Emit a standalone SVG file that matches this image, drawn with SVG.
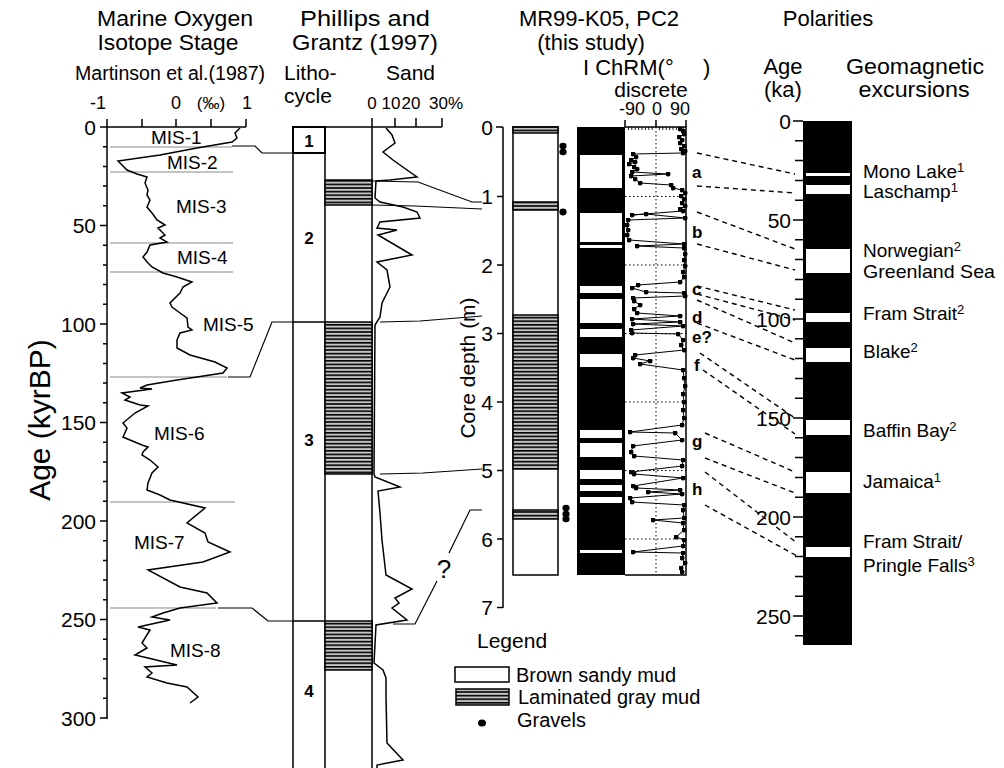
<svg xmlns="http://www.w3.org/2000/svg" width="1004" height="768" viewBox="0 0 1004 768">
<defs>
<style>
text{font-family:"Liberation Sans",Arial,sans-serif;fill:#000}
.t23{font-size:23px}
.t22{font-size:22px}
.t21{font-size:21px}
.t20{font-size:20px}
.t19{font-size:19px}
.t18{font-size:18px}
.t17{font-size:17px}
.mis{font-size:19px}
.bold{font-weight:bold;font-size:17px}
.ln{fill:none;stroke:#000;stroke-width:1.5}
.thin{fill:none;stroke:#000;stroke-width:1.2}
.gray{fill:none;stroke:#8a8a8a;stroke-width:1.2}
.dash{fill:none;stroke:#000;stroke-width:1.4;stroke-dasharray:5 4}
.dot{fill:none;stroke:#000;stroke-width:1;stroke-dasharray:1.5 2.5}
.lam{fill:url(#lam);stroke:#000;stroke-width:1.5}
.sand{fill:#fff;stroke:#000;stroke-width:1.5}
</style>
<pattern id="lam" width="10" height="3.6" patternUnits="userSpaceOnUse">
<rect width="10" height="3.6" fill="#c4c4c4"/>
<rect width="10" height="1.6" fill="#000"/>
</pattern>
<marker id="pt" viewBox="0 0 6 6" refX="3" refY="3" markerWidth="5" markerHeight="5" markerUnits="userSpaceOnUse">
<circle cx="3" cy="3" r="3" fill="#000"/>
</marker>
</defs>
<rect width="1004" height="768" fill="#fff"/>

<!-- ===== Left panel: Marine Oxygen Isotope Stage ===== -->
<g id="isotope-panel">
<text class="t22" x="175" y="26" text-anchor="middle" textLength="156" lengthAdjust="spacingAndGlyphs">Marine Oxygen</text>
<text class="t22" x="168" y="50" text-anchor="middle" textLength="141" lengthAdjust="spacingAndGlyphs">Isotope Stage</text>
<text class="t20" x="170" y="80" text-anchor="middle" textLength="190" lengthAdjust="spacingAndGlyphs">Martinson et al.(1987)</text>
<text class="t18" x="98" y="109" text-anchor="middle">-1</text>
<text class="t18" x="176" y="109" text-anchor="middle">0</text>
<text class="t17" x="211" y="109" text-anchor="middle">(‰)</text>
<text class="t18" x="247" y="109" text-anchor="middle">1</text>
<path class="ln" d="M107,127H246M107,127V119M142,127V119M176,127V119M211,127V119M246,127V119"/>
<text style="font-size:30px" transform="translate(50,420) rotate(-90)" text-anchor="middle">Age (kyrBP)</text>
<path class="ln" d="M107,127V719"/>
<path class="ln" d="M100,127H107M103,146.7H107M103,166.4H107M103,186.1H107M103,205.8H107M100,225.5H107M103,245.2H107M103,264.9H107M103,284.6H107M103,304.3H107M100,324H107M103,343.7H107M103,363.4H107M103,383.1H107M103,402.8H107M100,422.5H107M103,442.2H107M103,461.9H107M103,481.6H107M103,501.3H107M100,521H107M103,540.7H107M103,560.4H107M103,580.1H107M103,599.8H107M100,619.5H107M103,639.2H107M103,658.9H107M103,678.6H107M103,698.3H107M100,718H107"/>
<g class="t21" text-anchor="end">
<text x="96" y="135">0</text>
<text x="96" y="233">50</text>
<text x="96" y="332">100</text>
<text x="96" y="430">150</text>
<text x="96" y="529">200</text>
<text x="96" y="627">250</text>
<text x="96" y="726">300</text>
</g>
<path class="gray" d="M110,147H232M110,172H233M110,243H233M110,272H233M110,377H227M110,502H235M110,608H216"/>
<g class="mis">
<text x="151" y="144">MIS-1</text>
<text x="167" y="169">MIS-2</text>
<text x="176" y="213">MIS-3</text>
<text x="177" y="264">MIS-4</text>
<text x="203" y="331">MIS-5</text>
<text x="154" y="440">MIS-6</text>
<text x="134" y="549">MIS-7</text>
<text x="170" y="657">MIS-8</text>
</g>
<polyline class="ln" points="240,128 235,133 237,138 232,142 197,148 160,155 118,161 122,165 127,170 137,174 147,177 145,183 148,190 147,195 150,200 147,207 152,213 157,220 165,225 158,228 165,235 160,238 167,242 150,245 147,252 143,257 148,263 152,267 163,273 177,277 192,282 183,287 180,293 170,303 172,307 180,313 187,318 188,327 192,330 180,333 177,340 177,348 190,355 215,362 227,368 223,373 197,377 177,380 147,385 140,388 152,389 122,393 130,397 125,400 140,405 148,406 135,413 123,423 127,428 123,437 130,440 142,445 148,447 143,452 142,455 150,460 158,467 152,473 148,483 147,490 160,495 170,500 205,508 187,523 205,533 208,542 230,552 203,562 148,570 180,587 207,593 217,603 180,608 163,613 152,617 170,620 138,627 150,630 142,643 147,648 135,655 148,658 177,665 145,667 152,673 147,677 167,683 187,687 198,697 190,703"/>
</g>

<!-- ===== Phillips and Grantz (1997) ===== -->
<g id="phillips-panel">
<text class="t22" x="365" y="26" text-anchor="middle" textLength="130" lengthAdjust="spacingAndGlyphs">Phillips and</text>
<text class="t22" x="365" y="50" text-anchor="middle" textLength="146" lengthAdjust="spacingAndGlyphs">Grantz (1997)</text>
<text class="t21" x="284" y="80">Litho-</text>
<text class="t21" x="284" y="103">cycle</text>
<text class="t21" x="386" y="80">Sand</text>
<text class="t17" x="372" y="109" text-anchor="middle">0</text>
<text class="t17" x="391" y="109" text-anchor="middle">10</text>
<text class="t17" x="411" y="109" text-anchor="middle">20</text>
<text class="t17" x="446" y="109" text-anchor="middle">30%</text>
<path class="ln" d="M372,127H442M372,127V118M395,127V118M416,127V118M442,127V118"/>
<rect class="sand" x="325" y="127" width="47" height="650"/>
<rect class="lam" x="325" y="180" width="47" height="25"/>
<rect class="lam" x="325" y="322" width="47" height="152"/>
<rect class="lam" x="325" y="621" width="47" height="49"/>
<path class="ln" d="M293,127V770M293,127H325M293,153H325M293,322H325M293,621H325"/>
<rect x="293" y="127" width="32" height="26" fill="none" stroke="#000" stroke-width="2"/>
<g class="bold" text-anchor="middle">
<text x="309" y="147">1</text>
<text x="309" y="244">2</text>
<text x="309" y="446">3</text>
<text x="309" y="697">4</text>
</g>
<polyline class="ln" points="386,128 392,135 395,143 383,152 393,160 407,170 417,177 390,180 376,181 375,198 380,202 403,207 417,212 420,218 380,222 377,228 397,230 378,235 412,255 377,262 387,270 390,287 382,303 380,317 375,325 374,474 375,477 400,487 378,491 380,513 382,540 386,575 412,589 395,598 399,603 392,608 407,620 376,625 374,663 383,670 386,678 386,697 387,743 403,760 377,765 377,770"/>
</g>

<!-- ===== MR99-K05, PC2 ===== -->
<g id="mr99-panel">
<text class="t22" x="599" y="26" text-anchor="middle">MR99-K05, PC2</text>
<text class="t22" x="591" y="50" text-anchor="middle">(this study)</text>
<text class="t22" x="583" y="75">I ChRM(°</text>
<text class="t22" x="703" y="75">)</text>
<text class="t21" x="651" y="97" text-anchor="middle">discrete</text>
<text class="t18" x="632" y="115" text-anchor="middle">-90</text>
<text class="t18" x="657" y="115" text-anchor="middle">0</text>
<text class="t18" x="680" y="115" text-anchor="middle">90</text>
<text class="t21" transform="translate(475,368) rotate(-90)" text-anchor="middle">Core depth (m)</text>
<path class="ln" d="M503,127V608M496,127H503M497,196.5H503M497,265H503M497,333.5H503M497,402H503M497,470.5H503M497,539H503M497,607.5H503"/>
<g class="t21" text-anchor="end">
<text x="493" y="135">0</text>
<text x="493" y="204">1</text>
<text x="493" y="273">2</text>
<text x="493" y="341">3</text>
<text x="493" y="410">4</text>
<text x="493" y="478">5</text>
<text x="493" y="547">6</text>
<text x="493" y="615">7</text>
</g>
<rect class="sand" x="513" y="127" width="45" height="448"/>
<rect class="lam" x="513" y="127" width="45" height="6"/>
<rect class="lam" x="513" y="202" width="45" height="8"/>
<rect class="lam" x="513" y="315" width="45" height="154"/>
<rect class="lam" x="513" y="510" width="45" height="9"/>
<g fill="#000">
<ellipse cx="563" cy="146" rx="3.6" ry="3.2"/>
<ellipse cx="563" cy="152" rx="3.6" ry="3.2"/>
<ellipse cx="563" cy="212" rx="3.6" ry="3.4"/>
<ellipse cx="566" cy="508" rx="3.6" ry="3.2"/>
<ellipse cx="566" cy="514" rx="3.6" ry="3.2"/>
<ellipse cx="566" cy="519" rx="3.6" ry="3.2"/>
</g>
<rect x="577" y="127" width="48" height="448" fill="#000"/>
<g fill="#fff">
<rect x="580" y="155" width="42" height="33"/>
<rect x="580" y="213" width="42" height="29"/>
<rect x="580" y="245" width="42" height="3"/>
<rect x="580" y="286" width="42" height="7"/>
<rect x="580" y="299" width="42" height="24"/>
<rect x="580" y="329" width="42" height="8"/>
<rect x="580" y="354" width="42" height="13"/>
<rect x="580" y="430" width="42" height="8"/>
<rect x="580" y="443" width="42" height="14"/>
<rect x="580" y="470" width="42" height="9"/>
<rect x="580" y="485" width="42" height="6"/>
<rect x="580" y="497" width="42" height="6"/>
<rect x="580" y="550" width="42" height="3"/>
</g>
<path class="dot" d="M656,127V575M625,196.5H686M625,265H686M625,333.5H686M625,402H686M625,470.5H686M625,539H686"/>
<path class="ln" d="M625,127H686V575H625"/>
<path stroke="#000" stroke-width="0.9" fill="none" d="M628.4,127v3M631.8,127v3M635.2,127v3M638.6,127v3M642,127v3M645.4,127v3M648.8,127v3M652.2,127v3M659.4,127v3M662.8,127v3M666.2,127v3M669.6,127v3M673,127v3M676.4,127v3M679.8,127v3M683.2,127v3"/>
<path class="ln" d="M625,127V120M656,127V120M686,127V120"/>
<polyline fill="none" stroke="#000" stroke-width="1" marker-start="url(#pt)" marker-mid="url(#pt)" marker-end="url(#pt)" points="680,129 683,131 684,134 679,137 682,140 680,143 684,146 681,149 685,151 683,153 633,154 636,157 631,160 635,162 629,164 634,167 637,169 632,172 668,174 631,176 635,179 640,183 671,185 673,188 682,190 685,193 681,196 684,199 682,203 685,206 680,209 683,211 632,215 646,214 685,218 628,220 627,225 628,230 627,235 629,240 684,244 637,246 684,248 685,254 684,260 685,266 683,272 684,277 680,282 638,285 632,288 646,292 684,293 685,296 633,298 634,301 640,305 634,309 637,313 680,316 632,319 680,322 633,324 683,326 631,330 632,333 678,334 683,340 681,345 684,350 635,355 633,358 650,361 640,364 683,370 684,378 685,386 683,394 684,402 683,410 684,418 682,425 630,432 675,433 682,440 633,446 631,452 634,456 683,460 682,466 631,472 634,474 683,478 633,486 636,488 680,490 648,492 682,494 630,498 632,502 684,505 683,510 684,518 653,520 683,523 684,530 676,537 684,540 683,546 633,552 683,553 682,558 685,563 681,568 682,572"/>
<g class="bold">
<text x="692" y="178">a</text>
<text x="692" y="238">b</text>
<text x="692" y="295">c</text>
<text x="692" y="323">d</text>
<text x="692" y="343">e?</text>
<text x="694" y="371">f</text>
<text x="692" y="447">g</text>
<text x="692" y="495">h</text>
</g>
</g>

<!-- ===== Polarities ===== -->
<g id="polarity-panel">
<text class="t22" x="828" y="26" text-anchor="middle">Polarities</text>
<text class="t22" x="783" y="74" text-anchor="middle">Age</text>
<text class="t22" x="783" y="97" text-anchor="middle">(ka)</text>
<text class="t22" x="915" y="74" text-anchor="middle" textLength="138" lengthAdjust="spacingAndGlyphs">Geomagnetic</text>
<text class="t22" x="914" y="97" text-anchor="middle" textLength="111" lengthAdjust="spacingAndGlyphs">excursions</text>
<rect x="803" y="121" width="49" height="524" fill="#000"/>
<g fill="#fff">
<rect x="806" y="173" width="44" height="3"/>
<rect x="806" y="185" width="44" height="9"/>
<rect x="806" y="249" width="44" height="24"/>
<rect x="806" y="313" width="44" height="9"/>
<rect x="806" y="348" width="44" height="14"/>
<rect x="806" y="420" width="44" height="15"/>
<rect x="806" y="472" width="44" height="21"/>
<rect x="806" y="547" width="44" height="10"/>
</g>
<path class="ln" d="M793,121H803M795,140.8H803M795,160.6H803M795,180.4H803M795,200.2H803M793,220H803M795,239.8H803M795,259.6H803M795,279.4H803M795,299.2H803M793,319H803M795,338.8H803M795,358.6H803M795,378.4H803M795,398.2H803M793,418H803M795,437.8H803M795,457.6H803M795,477.4H803M795,497.2H803M793,517H803M795,536.8H803M795,556.6H803M795,576.4H803M795,596.2H803M793,616H803M795,635.8H803"/>
<g class="t21" text-anchor="end">
<text x="791" y="129">0</text>
<text x="791" y="228">50</text>
<text x="791" y="327">100</text>
<text x="791" y="426">150</text>
<text x="791" y="525">200</text>
<text x="791" y="624">250</text>
</g>
<g class="t19">
<text x="863" y="178">Mono Lake<tspan dy="-6" font-size="13">1</tspan></text>
<text x="863" y="198">Laschamp<tspan dy="-6" font-size="13">1</tspan></text>
<text x="863" y="257">Norwegian<tspan dy="-6" font-size="13">2</tspan></text>
<text x="863" y="278" textLength="132" lengthAdjust="spacingAndGlyphs">Greenland Sea</text>
<text x="863" y="320">Fram Strait<tspan dy="-6" font-size="13">2</tspan></text>
<text x="863" y="358">Blake<tspan dy="-6" font-size="13">2</tspan></text>
<text x="863" y="437">Baffin Bay<tspan dy="-6" font-size="13">2</tspan></text>
<text x="863" y="488">Jamaica<tspan dy="-6" font-size="13">1</tspan></text>
<text x="863" y="548">Fram Strait/</text>
<text x="863" y="572">Pringle Falls<tspan dy="-6" font-size="13">3</tspan></text>
</g>
</g>

<!-- ===== Legend ===== -->
<g id="legend">
<text class="t21" x="477" y="648">Legend</text>
<rect x="455" y="667" width="54" height="15" fill="#fff" stroke="#000" stroke-width="1.5"/>
<text class="t20" x="516" y="682">Brown sandy mud</text>
<rect class="lam" x="456" y="689" width="53" height="16"/>
<text class="t20" x="518" y="704">Laminated gray mud</text>
<ellipse cx="482" cy="723" rx="4" ry="3.5" fill="#000"/>
<text class="t20" x="517" y="727">Gravels</text>
</g>

<!-- ===== Connectors ===== -->
<g id="connectors">
<polyline class="thin" points="232,146 255,146 262,153 293,153"/>
<polyline class="thin" points="228,377 250,377 272,322 293,322"/>
<polyline class="thin" points="218,608 252,608 268,621 293,621"/>
<polyline class="thin" points="372,181 418,182 472,202 482,202"/>
<polyline class="thin" points="372,205 415,206 482,209"/>
<polyline class="thin" points="380,322 420,321 482,316"/>
<polyline class="thin" points="380,474 423,473 482,469"/>
<polyline class="thin" points="393,624 415,624 437,581"/>
<polyline class="thin" points="449,553 470,510 482,510"/>
<text x="444" y="578" text-anchor="middle" style="font-size:26px">?</text>
<path class="dash" d="M697,153L795,174M697,186L795,193M697,212L795,249M697,244L795,270M697,286L795,310M697,294L795,320M697,300L795,343M697,323L795,360M700,353L795,418M703,370L795,434M705,433L795,472M705,458L795,493M705,472L797,543M705,505L797,556"/>
</g>
</svg>
